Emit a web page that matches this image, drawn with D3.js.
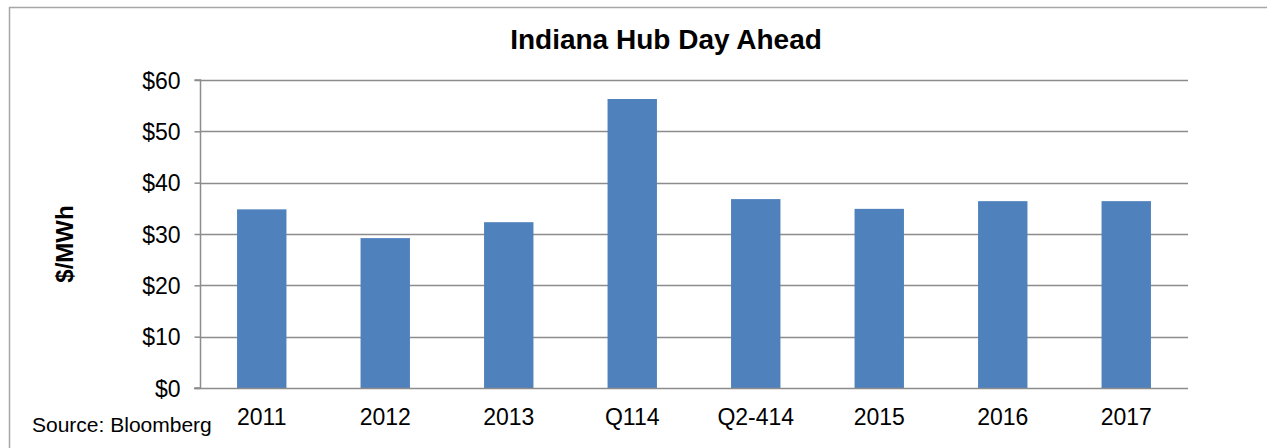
<!DOCTYPE html>
<html><head><meta charset="utf-8">
<script src="https://cdn.jsdelivr.net/npm/d3@7"></script>
<style>
html,body{margin:0;padding:0;background:#fff;}
svg{display:block;font-family:"Liberation Sans",Arial,sans-serif;}
</style></head>
<body>
<svg id="chart" width="1267" height="448"></svg>
<script>
const categories = ["2011","2012","2013","Q114","Q2-414","2015","2016","2017"];
const values = [34.8, 29.2, 32.3, 56.3, 36.8, 34.9, 36.4, 36.4];
const yTicks = [0,10,20,30,40,50,60];
const title = "Indiana Hub Day Ahead";
const yLabel = "$/MWh";
const source = "Source: Bloomberg";

const svg = d3.select("#chart");
const W = 1267, H = 448;
const m = {left:200, right:1188, top:80, bottom:388};

// outer border
svg.append("path")
  .attr("d", `M9.5,${H} V7.5 H${W}`)
  .attr("fill","none").attr("stroke","#a6a6a6").attr("stroke-width",1.5);

const x = d3.scaleBand().domain(categories).range([m.left, m.right]).paddingInner(0.6).paddingOuter(0.3);
const y = d3.scaleLinear().domain([0,60]).range([m.bottom, m.top]);

// gridlines
svg.append("g").selectAll("line").data(yTicks.filter(d=>d>0)).join("line")
  .attr("x1", m.left).attr("x2", m.right)
  .attr("y1", d=>Math.round(y(d))+0.5).attr("y2", d=>Math.round(y(d))+0.5)
  .attr("stroke","#8c8c8c").attr("stroke-width",1.5);

// bars
svg.append("g").selectAll("rect").data(values).join("rect")
  .attr("x",(d,i)=>x(categories[i]))
  .attr("width",x.bandwidth())
  .attr("y",d=>y(d))
  .attr("height",d=>y(0)-y(d))
  .attr("fill","#4f81bd");

// y axis
const yAxis = d3.axisLeft(y).tickValues(yTicks).tickSize(6).tickPadding(14).tickFormat(d=>"$"+d);
const gy = svg.append("g").attr("transform",`translate(${m.left+0.5},0)`).call(yAxis);
gy.select(".domain").attr("stroke","#8c8c8c").attr("stroke-width",1.5).attr("d",`M-6,${m.top}H0V${m.bottom}H-6`);
gy.selectAll(".tick line").attr("stroke","#8c8c8c").attr("stroke-width",1.5);
gy.selectAll(".tick text").attr("font-size",23).attr("fill","#000").attr("font-family","Liberation Sans, Arial, sans-serif").attr("dy","0.35em");

// baseline
svg.append("line").attr("x1",m.left-6).attr("x2",m.right)
  .attr("y1",m.bottom+0.5).attr("y2",m.bottom+0.5)
  .attr("stroke","#8c8c8c").attr("stroke-width",1.5);

// x axis
const xAxis = d3.axisBottom(x).tickSize(0).tickPadding(21);
const gx = svg.append("g").attr("transform",`translate(0,${m.bottom})`).call(xAxis);
gx.select(".domain").remove();
gx.selectAll(".tick text").attr("font-size",23).attr("fill","#000").attr("font-family","Liberation Sans, Arial, sans-serif");

// title
svg.append("text").attr("x",(m.left+m.right)/2 - 28).attr("y",49)
  .attr("text-anchor","middle").attr("font-size",28).attr("font-weight","bold")
  .text(title);

// y label
svg.append("text").attr("transform","translate(73,244) rotate(-90)")
  .attr("text-anchor","middle").attr("font-size",24).attr("font-weight","bold").text(yLabel);

// source
svg.append("text").attr("x",32).attr("y",432).attr("font-size",21).text(source);
</script>
</body></html>
